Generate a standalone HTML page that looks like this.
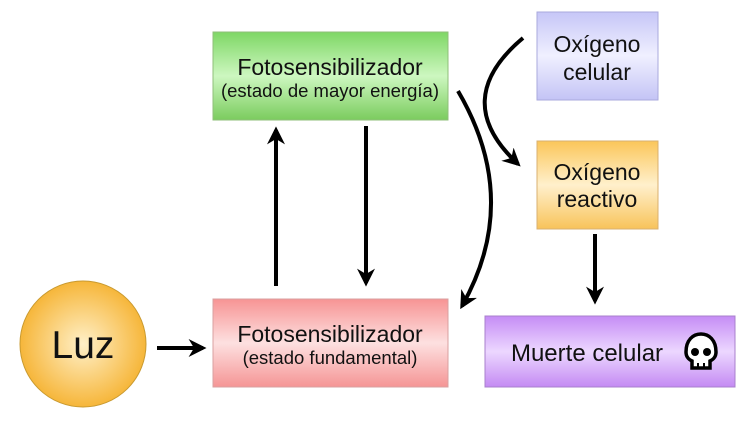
<!DOCTYPE html>
<html><head><meta charset="utf-8"><style>
html,body{margin:0;padding:0;background:#fff;}
svg{display:block;}
text{font-family:"Liberation Sans",Arial,sans-serif;fill:#111;text-anchor:middle;}
</style></head><body>
<svg width="754" height="424" viewBox="0 0 754 424" xmlns="http://www.w3.org/2000/svg">
<defs>
<linearGradient id="g" x1="0" y1="0" x2="0" y2="1"><stop offset="0" stop-color="#7ed765"/><stop offset="0.5" stop-color="#cdf7c0"/><stop offset="1" stop-color="#7bcc5e"/></linearGradient>
<linearGradient id="r" x1="0" y1="0" x2="0" y2="1"><stop offset="0" stop-color="#f79494"/><stop offset="0.5" stop-color="#fde0e0"/><stop offset="1" stop-color="#f59595"/></linearGradient>
<linearGradient id="b" x1="0" y1="0" x2="0" y2="1"><stop offset="0" stop-color="#c6c6f7"/><stop offset="0.5" stop-color="#f0f0ff"/><stop offset="1" stop-color="#c4c4f5"/></linearGradient>
<linearGradient id="o" x1="0" y1="0" x2="0" y2="1"><stop offset="0" stop-color="#fbc65a"/><stop offset="0.5" stop-color="#fff0cc"/><stop offset="1" stop-color="#f8c35a"/></linearGradient>
<linearGradient id="p" x1="0" y1="0" x2="0" y2="1"><stop offset="0" stop-color="#c58cf5"/><stop offset="0.5" stop-color="#ecd7ff"/><stop offset="1" stop-color="#c48af3"/></linearGradient>
<radialGradient id="c" cx="0.5" cy="0.5" r="0.5"><stop offset="0" stop-color="#fff0c8"/><stop offset="1" stop-color="#f6b63a"/></radialGradient>
<marker id="a" viewBox="0 0 10 10" refX="8" refY="5" markerWidth="4.5" markerHeight="4.5" orient="auto"><path d="M0,0 L10,5 L0,10 L3,5 z" fill="#000"/></marker>
</defs>
<rect x="213" y="32" width="235" height="88" fill="url(#g)" stroke="#8fbf7a"/>
<text x="330" y="75" font-size="23">Fotosensibilizador</text>
<text x="330" y="97" font-size="18.5">(estado de mayor energía)</text>
<rect x="213" y="299" width="235" height="88" fill="url(#r)" stroke="#d9a0a0"/>
<text x="330" y="342" font-size="23">Fotosensibilizador</text>
<text x="330" y="364" font-size="18.5">(estado fundamental)</text>
<rect x="537" y="12" width="121" height="88" fill="url(#b)" stroke="#aaaadd"/>
<text x="597" y="52" font-size="23">Oxígeno</text>
<text x="597" y="80" font-size="23">celular</text>
<rect x="537" y="141" width="121" height="88" fill="url(#o)" stroke="#d9b070"/>
<text x="597" y="180" font-size="23">Oxígeno</text>
<text x="597" y="207" font-size="23">reactivo</text>
<rect x="485" y="316" width="250" height="71" fill="url(#p)" stroke="#a880cc"/>
<text x="587" y="361" font-size="24">Muerte celular</text>
<g transform="translate(701,352)">
<path d="M-15,0 C-15,-12 -8,-18 0,-18 C8,-18 15,-12 15,0 C15,6 11,8 9,9 L9,16 L-9,16 L-9,9 C-11,8 -15,6 -15,0 Z" fill="#fff" stroke="#000" stroke-width="3.5"/>
<circle cx="-6" cy="0" r="4" fill="#000"/><circle cx="6" cy="0" r="4" fill="#000"/>
<path d="M-3,16 L-3,11 M3,16 L3,11" stroke="#000" stroke-width="2"/>
</g>
<circle cx="83" cy="344" r="63" fill="url(#c)" stroke="#c99a30"/>
<text x="83" y="358" font-size="39">Luz</text>
<g stroke="#000" stroke-width="4" fill="none" marker-end="url(#a)">
<path d="M157,348 L203,348"/>
<path d="M276,286 L276,130"/>
<path d="M366,126 L366,283"/>
<path d="M458,91 Q522,200 462,306"/>
<path d="M523,38 Q449,100 518,164"/>
<path d="M595,234 L595,301"/>
</g>
</svg>
</body></html>
